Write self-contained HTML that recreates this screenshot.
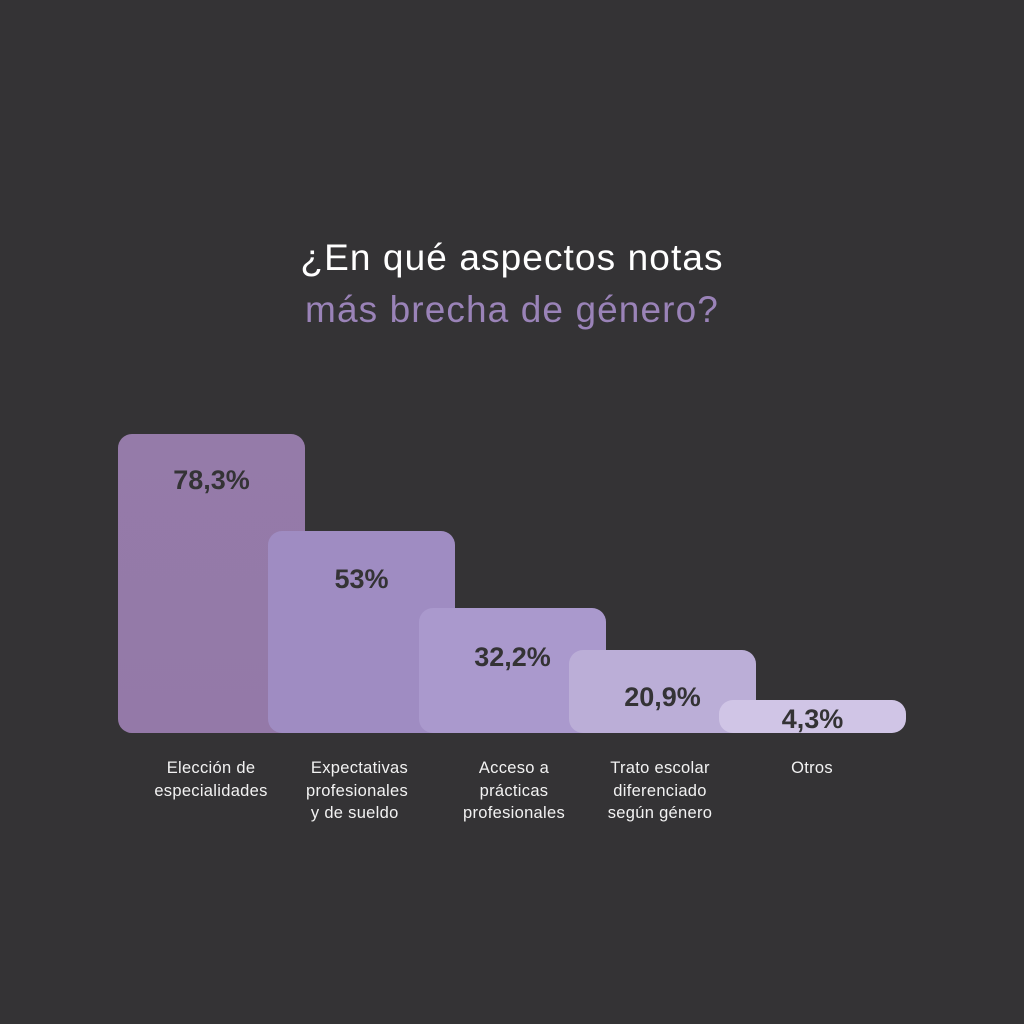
<!DOCTYPE html>
<html><head><meta charset="utf-8"><style>
html,body{margin:0;padding:0}
body{width:1024px;height:1024px;background:#343335;position:relative;overflow:hidden;font-family:"Liberation Sans",sans-serif}
.t{position:absolute;left:0;width:1024px;text-align:center;font-size:37px;letter-spacing:1.1px;line-height:40px}
.bar{position:absolute;border-radius:14px;width:187px}
.v{position:absolute;color:#343335;font-weight:bold;font-size:27px;text-align:center;width:187px}
.l{position:absolute;color:#f2f2f2;font-size:16.5px;line-height:22.5px;text-align:center;width:180px;letter-spacing:0.3px}
</style></head><body>
<div class="t" style="top:238px;color:#ffffff">¿En qué aspectos notas</div>
<div class="t" style="top:290px;color:#9a83b8">más brecha de género?</div>

<div class="bar" style="left:118px;top:434px;height:299px;background:linear-gradient(#957ba9,#9479a8)"></div>
<div class="bar" style="left:268px;top:531px;height:202px;background:#9f8cc2"></div>
<div class="bar" style="left:419px;top:608px;height:125px;background:#aa99cd"></div>
<div class="bar" style="left:569px;top:650px;height:83px;background:#bbaed7"></div>
<div class="bar" style="left:719px;top:700px;height:33px;background:#d0c5e6"></div>

<div class="v" style="left:118px;top:465px">78,3%</div>
<div class="v" style="left:268px;top:564px">53%</div>
<div class="v" style="left:419px;top:642px">32,2%</div>
<div class="v" style="left:569px;top:682px">20,9%</div>
<div class="v" style="left:719px;top:704px">4,3%</div>

<div class="l" style="left:121px;top:757px">Elección de<br>especialidades</div>
<div class="l" style="left:306px;top:757px;text-align:left">&nbsp;Expectativas<br>profesionales<br>&nbsp;y de sueldo</div>
<div class="l" style="left:424px;top:757px">Acceso a<br>prácticas<br>profesionales</div>
<div class="l" style="left:570px;top:757px">Trato escolar<br>diferenciado<br>según género</div>
<div class="l" style="left:722px;top:757px">Otros</div>
</body></html>
